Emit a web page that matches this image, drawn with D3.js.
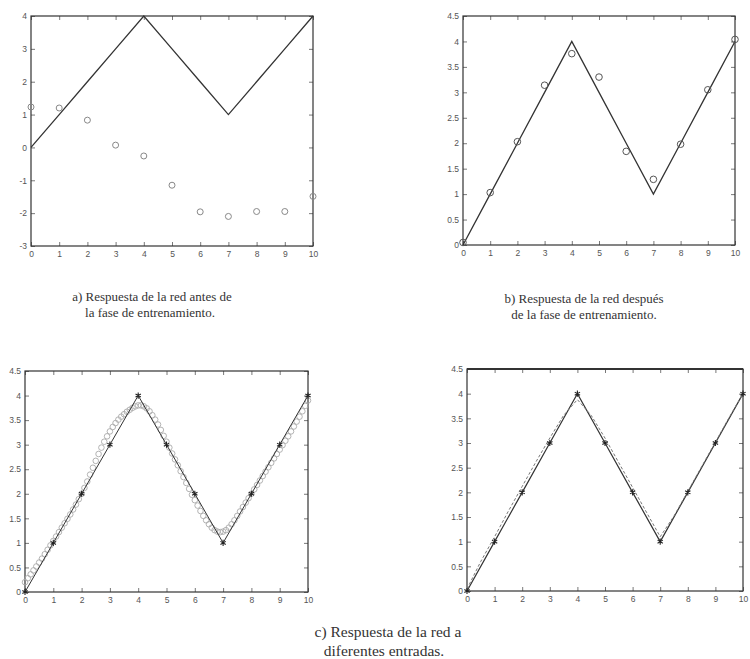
<!DOCTYPE html>
<html>
<head>
<meta charset="utf-8">
<script src="https://cdn.jsdelivr.net/npm/d3@7"></script>
<style>
  html, body { margin: 0; padding: 0; background: #fff; }
  svg { display: block; }
  .tick text { font-family: "Liberation Sans", Arial, sans-serif; font-size: 8.5px; fill: #555; }
  .caption { font-family: "Liberation Serif", "Times New Roman", serif; fill: #333; }
</style>
</head>
<body>
<svg id="fig" width="750" height="659"></svg>
<script>
// Training inputs and desired (triangle) response
const xInputs = [0, 1, 2, 3, 4, 5, 6, 7, 8, 9, 10];
const target = [0, 1, 2, 3, 4, 3, 2, 1, 2, 3, 4];

// Network output before training (panel a)
const outBefore = [1.23, 1.2, 0.83, 0.07, -0.26, -1.15, -1.96, -2.1, -1.95, -1.95, -1.49];

// Network output after training (panel b)
const outAfter = [0.05, 1.03, 2.03, 3.14, 3.76, 3.3, 1.84, 1.29, 1.98, 3.05, 4.04];

// Response to a dense set of inputs (panel c)
const xDense = [0, 0.1, 0.2, 0.3, 0.4, 0.5, 0.6, 0.7, 0.8, 0.9,
  1, 1.1, 1.2, 1.3, 1.4, 1.5, 1.6, 1.7, 1.8, 1.9,
  2, 2.1, 2.2, 2.3, 2.4, 2.5, 2.6, 2.7, 2.8, 2.9,
  3, 3.1, 3.2, 3.3, 3.4, 3.5, 3.6, 3.7, 3.8, 3.9,
  4, 4.1, 4.2, 4.3, 4.4, 4.5, 4.6, 4.7, 4.8, 4.9,
  5, 5.1, 5.2, 5.3, 5.4, 5.5, 5.6, 5.7, 5.8, 5.9,
  6, 6.1, 6.2, 6.3, 6.4, 6.5, 6.6, 6.7, 6.8, 6.9,
  7, 7.1, 7.2, 7.3, 7.4, 7.5, 7.6, 7.7, 7.8, 7.9,
  8, 8.1, 8.2, 8.3, 8.4, 8.5, 8.6, 8.7, 8.8, 8.9,
  9, 9.1, 9.2, 9.3, 9.4, 9.5, 9.6, 9.7, 9.8, 9.9, 10];
const outDense = [0.20, 0.28, 0.36, 0.44, 0.52, 0.60, 0.68, 0.77, 0.86, 0.95,
  1.04, 1.13, 1.22, 1.31, 1.40, 1.49, 1.58, 1.68, 1.78, 1.89,
  2.00, 2.12, 2.25, 2.39, 2.53, 2.67, 2.81, 2.94, 3.06, 3.17,
  3.27, 3.36, 3.44, 3.51, 3.57, 3.62, 3.67, 3.71, 3.75, 3.78,
  3.80, 3.80, 3.78, 3.74, 3.68, 3.60, 3.51, 3.41, 3.30, 3.18,
  3.06, 2.94, 2.82, 2.70, 2.58, 2.46, 2.34, 2.22, 2.10, 1.98,
  1.87, 1.76, 1.65, 1.55, 1.46, 1.38, 1.31, 1.26, 1.23, 1.22,
  1.23, 1.26, 1.31, 1.38, 1.46, 1.55, 1.64, 1.73, 1.82, 1.91,
  2.00, 2.09, 2.18, 2.27, 2.36, 2.45, 2.54, 2.63, 2.72, 2.81,
  2.90, 2.99, 3.08, 3.17, 3.27, 3.37, 3.47, 3.57, 3.68, 3.79, 3.90];

// Response sampled every half unit (panel d)
const xHalf = [0, 0.5, 1, 1.5, 2, 2.5, 3, 3.5, 4, 4.5, 5, 5.5, 6, 6.5, 7, 7.5, 8, 8.5, 9, 9.5, 10];
const outHalf = [0.04, 0.6, 1.1, 1.62, 2.12, 2.62, 3.1, 3.56, 3.88, 3.56, 3.1, 2.6, 2.1, 1.6, 1.1, 1.52, 2.02, 2.52, 3.02, 3.52, 4.0];

// Tick labels
const xTicks = [0, 1, 2, 3, 4, 5, 6, 7, 8, 9, 10];
const yTicksA = [-3, -2, -1, 0, 1, 2, 3, 4];
const yTicksB = [0, 0.5, 1, 1.5, 2, 2.5, 3, 3.5, 4, 4.5];

const svg = d3.select("#fig");
const ink = "#333";

function panel(box, yDomain, yTicks) {
  const g = svg.append("g");
  const x = d3.scaleLinear().domain([0, 10]).range([box.x0, box.x1]);
  const y = d3.scaleLinear().domain(yDomain).range([box.y1, box.y0]);
  const fmt = d => String(d);
  const tick = -4;

  g.append("g").attr("transform", `translate(0,${box.y1})`)
    .call(d3.axisBottom(x).tickValues(xTicks).tickFormat(fmt).tickSizeInner(tick).tickSizeOuter(0).tickPadding(5));
  g.append("g").attr("transform", `translate(0,${box.y0})`)
    .call(d3.axisTop(x).tickValues(xTicks).tickFormat("").tickSizeInner(tick).tickSizeOuter(0));
  g.append("g").attr("transform", `translate(${box.x0},0)`)
    .call(d3.axisLeft(y).tickValues(yTicks).tickFormat(fmt).tickSizeInner(tick).tickSizeOuter(0).tickPadding(4));
  g.append("g").attr("transform", `translate(${box.x1},0)`)
    .call(d3.axisRight(y).tickValues(yTicks).tickFormat("").tickSizeInner(tick).tickSizeOuter(0));
  g.selectAll(".domain").remove();
  g.selectAll(".tick line").attr("stroke", "#555").attr("stroke-width", 0.8);

  g.append("rect")
    .attr("x", box.x0).attr("y", box.y0)
    .attr("width", box.x1 - box.x0).attr("height", box.y1 - box.y0)
    .attr("fill", "none").attr("stroke", ink).attr("stroke-width", 1.2);

  return { g, x, y, box };
}

function targetLine(p, width) {
  p.g.append("path")
    .datum(xInputs.map((v, i) => [v, target[i]]))
    .attr("fill", "none").attr("stroke", ink).attr("stroke-width", width)
    .attr("d", d3.line().x(d => p.x(d[0])).y(d => p.y(d[1])));
}

function circles(p, xs, ys, r, color, width) {
  p.g.append("g").selectAll("circle")
    .data(xs.map((v, i) => [v, ys[i]]))
    .join("circle")
    .attr("cx", d => p.x(d[0])).attr("cy", d => p.y(d[1])).attr("r", r)
    .attr("fill", "none").attr("stroke", color).attr("stroke-width", width);
}

function stars(p) {
  const sym = d3.symbolAsterisk || d3.symbolCross;
  p.g.append("g").selectAll("path")
    .data(xInputs.map((v, i) => [v, target[i]]))
    .join("path")
    .attr("transform", d => `translate(${p.x(d[0])},${p.y(d[1])})`)
    .attr("d", d3.symbol().type(sym).size(26))
    .attr("fill", "none").attr("stroke", "#222").attr("stroke-width", 1.1);
}

// a) before training
const pa = panel({ x0: 31, x1: 313, y0: 16, y1: 246 }, [-3, 4], yTicksA);
targetLine(pa, 1.3);
circles(pa, xInputs, outBefore, 3, "#888", 1);

// b) after training
const pb = panel({ x0: 463, x1: 735, y0: 16, y1: 245 }, [0, 4.5], yTicksB);
targetLine(pb, 1.3);
circles(pb, xInputs, outAfter, 3.3, "#555", 1);

// c) dense inputs
const pc = panel({ x0: 25, x1: 308, y0: 371, y1: 592 }, [0, 4.5], yTicksB);
circles(pc, xDense, outDense, 2.8, "#aaa", 0.9);
targetLine(pc, 1);
stars(pc);

// d) half-step inputs
const pd = panel({ x0: 467, x1: 743, y0: 369, y1: 591 }, [0, 4.5], yTicksB);
pd.g.append("line")
  .attr("x1", pd.box.x0).attr("x2", pd.box.x1)
  .attr("y1", pd.box.y0).attr("y2", pd.box.y0)
  .attr("stroke", ink).attr("stroke-width", 2);
targetLine(pd, 1.2);
pd.g.append("path")
  .datum(xHalf.map((v, i) => [v, outHalf[i]]))
  .attr("fill", "none").attr("stroke", "#777").attr("stroke-width", 1)
  .attr("stroke-dasharray", "3,2")
  .attr("d", d3.line().x(d => pd.x(d[0])).y(d => pd.y(d[1])));
stars(pd);

// Captions
const captions = [
  { x: 152, y: 301, size: 13, text: "a) Respuesta de la red antes de" },
  { x: 150, y: 317, size: 13, text: "la fase de entrenamiento." },
  { x: 584, y: 303, size: 13, text: "b) Respuesta de la red después" },
  { x: 584, y: 319, size: 13, text: "de la fase de entrenamiento." },
  { x: 388, y: 637, size: 15.5, text: "c) Respuesta de la red a" },
  { x: 384, y: 656, size: 15.5, text: "diferentes entradas." }
];
svg.append("g").selectAll("text")
  .data(captions)
  .join("text")
  .attr("class", "caption")
  .attr("x", d => d.x).attr("y", d => d.y)
  .attr("font-size", d => d.size)
  .attr("text-anchor", "middle")
  .text(d => d.text);
</script>
</body>
</html>
